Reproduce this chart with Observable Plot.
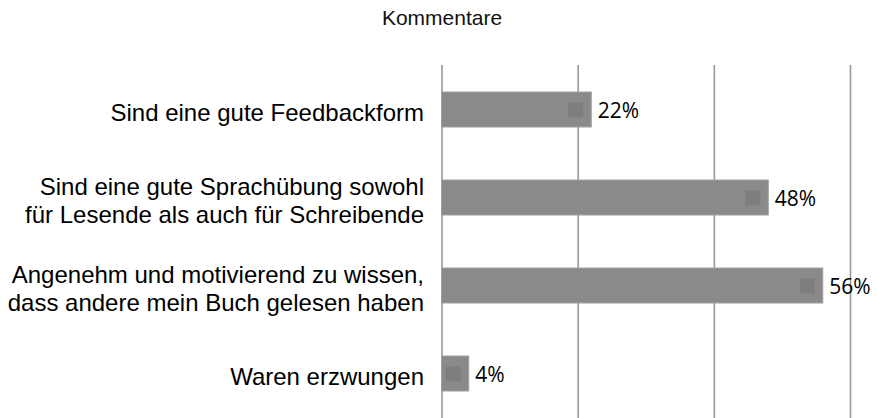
<!DOCTYPE html>
<html>
<head>
<meta charset="utf-8">
<script src="https://cdn.jsdelivr.net/npm/d3@7"></script>
<script src="https://cdn.jsdelivr.net/npm/@observablehq/plot@0.6"></script>
<style>
  html, body { margin: 0; padding: 0; background: #fff; }
  #wrap { position: relative; width: 877px; height: 418px; overflow: hidden; font-family: "Liberation Sans", Arial, sans-serif; }
  #title { position: absolute; left: 0; width: 884px; top: 6px; text-align: center; font-size: 21px; color: #111; }
  #chart { position: absolute; left: 0; top: 65px; }
</style>
</head>
<body>
<div id="wrap">
  <div id="title">Kommentare</div>
  <div id="chart"></div>
</div>
<script>
const categories = [
  "Sind eine gute Feedbackform",
  "Sind eine gute Sprachübung sowohl\nfür Lesende als auch für Schreibende",
  "Angenehm und motivierend zu wissen,\ndass andere mein Buch gelesen haben",
  "Waren erzwungen"
];
const values = [22, 48, 56, 4];
const valueLabels = ["22%", "48%", "56%", "4%"];
const gridTicks = [0, 20, 40, 60];

const data = categories.map((c, i) => ({cat: c, value: values[i], label: valueLabels[i]}));

const chart = Plot.plot({
  width: 877,
  height: 353,
  marginLeft: 441.5,
  marginRight: 27,
  marginTop: 0,
  marginBottom: 0,
  x: {domain: [0, 60], axis: null},
  y: {domain: categories, axis: null, paddingInner: 0.6, paddingOuter: 0.3},
  style: {fontFamily: "'Liberation Sans', Arial, sans-serif", background: "#fff", overflow: "visible"},
  marks: [
    Plot.ruleX(gridTicks, {stroke: "#9a9a9a", strokeWidth: 1.6}),
    Plot.barX(data, {x: "value", y: "cat", fill: "#8b8989", stroke: "#a2a0a0", strokeWidth: 1}),
    Plot.dot(data, {x: "value", y: "cat", symbol: "square", r: 8.4, fill: "#7f7d7d", dx: -16}),
    Plot.text(data, {x: "value", y: "cat", text: "label", textAnchor: "start", dx: 6, dy: 1, fontSize: 21, fontFamily: "'Open Sans', sans-serif", fill: "#000"}),
    Plot.text(data, {x: 0, y: "cat", text: "cat", textAnchor: "end", dx: -18, dy: 2, fontSize: 24, lineHeight: 1.15, fill: "#000"})
  ]
});
document.getElementById("chart").appendChild(chart);
</script>
</body>
</html>
